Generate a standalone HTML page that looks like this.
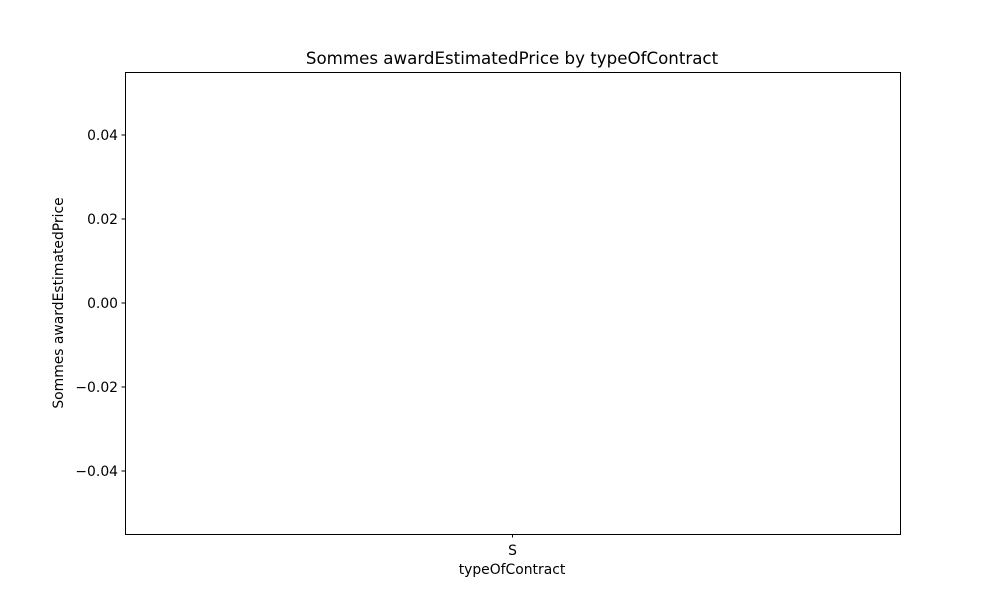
<!DOCTYPE html>
<html><head><meta charset="utf-8"><style>
body{margin:0;background:#fff;}
svg{display:block;font-family:"DejaVu Sans","Liberation Sans",sans-serif;}
</style></head><body>
<svg id="chart" width="1000" height="600">
<text x="512" y="64" text-anchor="middle" font-size="16.67">Sommes awardEstimatedPrice by typeOfContract</text>
<g id="yticks"></g>
<g id="xticks"></g>
<g id="bars"></g>
<rect x="125.5" y="72.5" width="775" height="462" fill="none" stroke="#000" stroke-width="1"/>
<text x="512" y="574" text-anchor="middle" font-size="13.9">typeOfContract</text>
<text transform="translate(63,303) rotate(-90)" text-anchor="middle" font-size="13.9">Sommes awardEstimatedPrice</text>
</svg>
<script>
const categories = ["S"];
const values = [0];
const yTicks = [-0.04, -0.02, 0.00, 0.02, 0.04];
const yTickLabels = ["\u22120.04", "\u22120.02", "0.00", "0.02", "0.04"];
const yMin = -0.055, yMax = 0.055;
const L = 125, R = 900, T = 72, B = 534;
const ns = "http://www.w3.org/2000/svg";
function y(v){ return B - (v - yMin) / (yMax - yMin) * (B - T); }
function x(i){ return L + (R - L) * (i + 0.5) / categories.length; }
const yg = document.getElementById('yticks');
yTicks.forEach((t, i) => {
  const l = document.createElementNS(ns, 'line');
  l.setAttribute('x1', L - 3.5); l.setAttribute('x2', L); l.setAttribute('y1', y(t)); l.setAttribute('y2', y(t));
  l.setAttribute('stroke', '#000');
  
  
  yg.appendChild(l);
  const tx = document.createElementNS(ns, 'text');
  tx.setAttribute('x', L - 7); tx.setAttribute('y', y(t) + 5); tx.setAttribute('text-anchor', 'end'); tx.setAttribute('font-size', '13.9');
  tx.textContent = yTickLabels[i];
  
  
  yg.appendChild(tx);
});
const xg = document.getElementById('xticks');
const bg = document.getElementById('bars');
categories.forEach((c, i) => {
  const l = document.createElementNS(ns, 'line');
  l.setAttribute('x1', x(i)); l.setAttribute('x2', x(i)); l.setAttribute('y1', B); l.setAttribute('y2', B + 3.5);
  l.setAttribute('stroke', '#000');
  
  
  xg.appendChild(l);
  const tx = document.createElementNS(ns, 'text');
  tx.setAttribute('x', x(i)); tx.setAttribute('y', B + 21); tx.setAttribute('text-anchor', 'middle'); tx.setAttribute('font-size', '13.9');
  tx.textContent = c;
  
  
  xg.appendChild(tx);
  const w = (R - L) / categories.length * 0.8;
  const r = document.createElementNS(ns, 'rect');
  const v = values[i];
  r.setAttribute('x', x(i) - w / 2); r.setAttribute('width', w);
  r.setAttribute('y', Math.min(y(v), y(0))); r.setAttribute('height', Math.abs(y(v) - y(0)));
  r.setAttribute('fill', '#1f77b4');
  
  
  bg.appendChild(r);
});
</script>
</body></html>
